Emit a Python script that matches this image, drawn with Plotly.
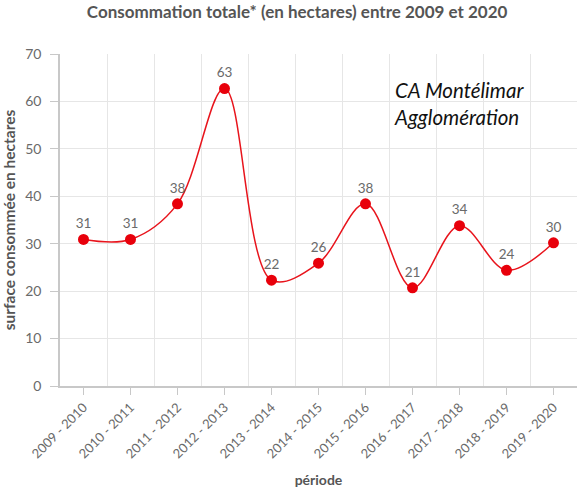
import plotly.graph_objects as go

periodes = ["2009 - 2010", "2010 - 2011", "2011 - 2012", "2012 - 2013", "2013 - 2014",
            "2014 - 2015", "2015 - 2016", "2016 - 2017", "2017 - 2018", "2018 - 2019",
            "2019 - 2020"]
surfaces = [30.9, 30.9, 38.4, 62.7, 22.3, 25.9, 38.4, 20.7, 33.8, 24.4, 30.2]
labels = [str(round(v)) for v in surfaces]

FONT = "Lato, 'Noto Sans', sans-serif"

fig = go.Figure()
n = len(periodes)
# invisible helper trace to activate xaxis2 (boundary gridlines)
fig.add_trace(go.Scatter(x=[0], y=[0], xaxis="x2", mode="markers",
                         marker=dict(opacity=0), hoverinfo="skip", showlegend=False))
fig.add_trace(go.Scatter(
    x=periodes, y=surfaces, mode="lines+markers+text",
    text=labels, textposition="top center",
    textfont=dict(family=FONT, size=13.5, color="#6a6a6a"),
    line=dict(color="#e8141c", width=1.5, shape="spline", smoothing=1),
    marker=dict(color="#e8000b", size=11),
    hoverinfo="x+y", showlegend=False, cliponaxis=False,
))

fig.update_layout(
    width=577, height=488,
    margin=dict(l=60, r=0, t=54, b=102, autoexpand=False),
    paper_bgcolor="white", plot_bgcolor="white",
    font=dict(family=FONT, color="#666666", size=13),
    title=dict(text="<b>Consommation totale* (en hectares) entre 2009 et 2020</b>",
               x=0.515, xanchor="center", y=0.975, yanchor="middle",
               font=dict(family=FONT, size=17, color="#555555")),
    xaxis=dict(
        type="category", categoryorder="array", categoryarray=periodes,
        range=[-0.5, n - 0.5], automargin=False,
        showgrid=False, showline=True, linecolor="#c8c8c8", linewidth=1.5,
        ticks="outside", ticklen=7, tickcolor="#c8c8c8",
        tickangle=-45, tickfont=dict(family=FONT, size=13, color="#6a6a6a"),
        title=dict(text="<b>période</b>", font=dict(family=FONT, size=14, color="#555555"),
                   standoff=18),
        zeroline=False,
    ),
    xaxis2=dict(
        overlaying="x", range=[-0.5, n - 0.5], showticklabels=False,
        tickmode="array", tickvals=[i + 0.5 for i in range(n)],
        showgrid=True, gridcolor="#e6e6e6", gridwidth=1, ticks="",
        zeroline=False, showline=False, automargin=False,
    ),
    yaxis=dict(
        range=[0, 70], dtick=10, showgrid=True, gridcolor="#e6e6e6", gridwidth=1,
        showline=True, linecolor="#c8c8c8", linewidth=1.5, automargin=False,
        ticks="outside", ticklen=8, tickcolor="#c8c8c8", ticklabelstandoff=6,
        tickfont=dict(family=FONT, size=14, color="#6a6a6a"),
        title=dict(text="<b>surface consommée en hectares</b>",
                   font=dict(family=FONT, size=15.5, color="#555555"), standoff=6),
        zeroline=False,
    ),
    annotations=[dict(
        text="<i>CA Montélimar<br>Agglomération</i>",
        xref="paper", yref="paper", x=0.643, y=0.935, xanchor="left", yanchor="top",
        align="left", showarrow=False,
        font=dict(family=FONT, size=20.5, color="#111111"),
    )],
)

fig.write_html("out.html", config={"displayModeBar": False},
               post_script="document.body.style.margin='0';")
